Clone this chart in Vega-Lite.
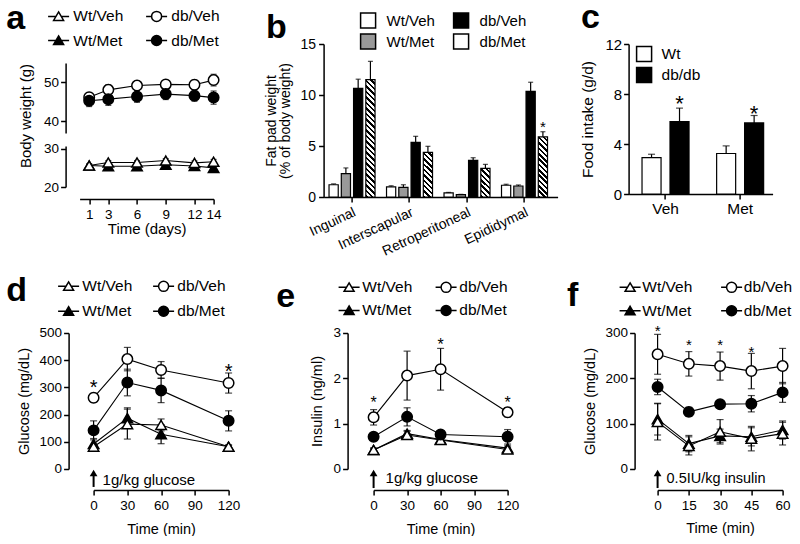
{
"$schema":"https://vega.github.io/schema/vega-lite/v6.json",
"background":"white",
"padding":{"left":5.6,"top":0,"right":0,"bottom":0},
"config":{
 "font":"Liberation Sans",
 "view":{"stroke":null},
 "axis":{"domainColor":"black","tickColor":"black","labelColor":"black","titleColor":"black","domainWidth":1.5,"tickWidth":1.5,"tickSize":5,"labelFontSize":13.5,"titleFontSize":14.5,"titleFontWeight":"normal","grid":false,"labelFlush":false,"labelOverlap":false,"labelPadding":2,"labelFont":"Liberation Sans","titleFont":"Liberation Sans"},
 "legend":{"labelFont":"Liberation Sans","labelColor":"black","labelFontSize":15.5,"padding":0},
 "title":{"font":"Liberation Sans","color":"black"},
 "text":{"font":"Liberation Sans","color":"black"}
},
"datasets":{
 "bw":[
  {"g":"Wt/Met","t":1,"v":25.6,"e":0.4},{"g":"Wt/Met","t":3,"v":25.4,"e":0.4},{"g":"Wt/Met","t":6,"v":25.4,"e":0.4},{"g":"Wt/Met","t":9,"v":25.8,"e":0.4},{"g":"Wt/Met","t":12,"v":25.5,"e":0.4},{"g":"Wt/Met","t":14,"v":25.0,"e":0.4},
  {"g":"Wt/Veh","t":1,"v":25.6,"e":0.4},{"g":"Wt/Veh","t":3,"v":26.4,"e":0.5},{"g":"Wt/Veh","t":6,"v":26.4,"e":0.5},{"g":"Wt/Veh","t":9,"v":26.9,"e":0.5},{"g":"Wt/Veh","t":12,"v":26.3,"e":0.5},{"g":"Wt/Veh","t":14,"v":26.6,"e":0.6},
  {"g":"db/Veh","t":1,"v":46.2,"e":1.2},{"g":"db/Veh","t":3,"v":48.1,"e":1.3},{"g":"db/Veh","t":6,"v":49.2,"e":1.1},{"g":"db/Veh","t":9,"v":49.5,"e":1.0},{"g":"db/Veh","t":12,"v":49.4,"e":1.2},{"g":"db/Veh","t":14,"v":50.6,"e":1.5},
  {"g":"db/Met","t":1,"v":45.3,"e":1.5},{"g":"db/Met","t":3,"v":45.7,"e":1.6},{"g":"db/Met","t":6,"v":46.4,"e":1.5},{"g":"db/Met","t":9,"v":47.0,"e":1.4},{"g":"db/Met","t":12,"v":46.6,"e":1.4},{"g":"db/Met","t":14,"v":46.1,"e":1.7}
 ],
 "fat":[
  {"tissue":"Inguinal","g":"Wt/Veh","v":1.2,"hi":1.28},{"tissue":"Inguinal","g":"Wt/Met","v":2.3,"hi":2.85},{"tissue":"Inguinal","g":"db/Veh","v":10.65,"hi":11.55},{"tissue":"Inguinal","g":"db/Met","v":11.5,"hi":13.3},
  {"tissue":"Interscapular","g":"Wt/Veh","v":1.0,"hi":1.1},{"tissue":"Interscapular","g":"Wt/Met","v":0.95,"hi":1.2},{"tissue":"Interscapular","g":"db/Veh","v":5.35,"hi":5.95},{"tissue":"Interscapular","g":"db/Met","v":4.37,"hi":4.97},
  {"tissue":"Retroperitoneal","g":"Wt/Veh","v":0.4,"hi":0.45},{"tissue":"Retroperitoneal","g":"Wt/Met","v":0.23,"hi":0.26},{"tissue":"Retroperitoneal","g":"db/Veh","v":3.6,"hi":3.85},{"tissue":"Retroperitoneal","g":"db/Met","v":2.8,"hi":3.2},
  {"tissue":"Epididymal","g":"Wt/Veh","v":1.15,"hi":1.25},{"tissue":"Epididymal","g":"Wt/Met","v":1.08,"hi":1.18},{"tissue":"Epididymal","g":"db/Veh","v":10.35,"hi":11.25},{"tissue":"Epididymal","g":"db/Met","v":5.9,"hi":6.4}
 ],
 "food":[
  {"cond":"Veh","g":"Wt","v":2.91,"hi":3.18},{"cond":"Veh","g":"db/db","v":5.79,"hi":6.87},{"cond":"Met","g":"Wt","v":3.24,"hi":3.85},{"cond":"Met","g":"db/db","v":5.69,"hi":6.28}
 ],
 "gtt":[
  {"g":"Wt/Met","t":0,"v":92,"e":20},{"g":"Wt/Met","t":30,"v":187,"e":38},{"g":"Wt/Met","t":60,"v":128,"e":35},{"g":"Wt/Met","t":120,"v":82,"e":6},
  {"g":"Wt/Veh","t":0,"v":82,"e":8},{"g":"Wt/Veh","t":30,"v":165,"e":55},{"g":"Wt/Veh","t":60,"v":162,"e":22},{"g":"Wt/Veh","t":120,"v":82,"e":6},
  {"g":"db/Veh","t":0,"v":262,"e":16},{"g":"db/Veh","t":30,"v":404,"e":43},{"g":"db/Veh","t":60,"v":364,"e":31},{"g":"db/Veh","t":120,"v":316,"e":37},
  {"g":"db/Met","t":0,"v":142,"e":35},{"g":"db/Met","t":30,"v":318,"e":49},{"g":"db/Met","t":60,"v":289,"e":45},{"g":"db/Met","t":120,"v":177,"e":37}
 ],
 "ins":[
  {"g":"Wt/Met","t":0,"v":0.42,"e":0.04},{"g":"Wt/Met","t":30,"v":0.78,"e":0.07},{"g":"Wt/Met","t":60,"v":0.65,"e":0.05},{"g":"Wt/Met","t":120,"v":0.46,"e":0.05},
  {"g":"Wt/Veh","t":0,"v":0.42,"e":0.04},{"g":"Wt/Veh","t":30,"v":0.75,"e":0.08},{"g":"Wt/Veh","t":60,"v":0.64,"e":0.05},{"g":"Wt/Veh","t":120,"v":0.43,"e":0.05},
  {"g":"db/Veh","t":0,"v":1.14,"e":0.17},{"g":"db/Veh","t":30,"v":2.06,"e":0.54},{"g":"db/Veh","t":60,"v":2.2,"e":0.46},{"g":"db/Veh","t":120,"v":1.25,"e":0.1},
  {"g":"db/Met","t":0,"v":0.71,"e":0.08},{"g":"db/Met","t":30,"v":1.15,"e":0.2},{"g":"db/Met","t":60,"v":0.76,"e":0.05},{"g":"db/Met","t":120,"v":0.71,"e":0.16}
 ],
 "itt":[
  {"g":"Wt/Met","t":0,"v":110,"e":35},{"g":"Wt/Met","t":15,"v":56,"e":18},{"g":"Wt/Met","t":30,"v":73,"e":15},{"g":"Wt/Met","t":45,"v":71,"e":20},{"g":"Wt/Met","t":60,"v":86,"e":20},
  {"g":"Wt/Veh","t":0,"v":104,"e":40},{"g":"Wt/Veh","t":15,"v":51,"e":20},{"g":"Wt/Veh","t":30,"v":82,"e":27},{"g":"Wt/Veh","t":45,"v":67,"e":27},{"g":"Wt/Veh","t":60,"v":78,"e":25},
  {"g":"db/Veh","t":0,"v":253,"e":44},{"g":"db/Veh","t":15,"v":232,"e":27},{"g":"db/Veh","t":30,"v":227,"e":31},{"g":"db/Veh","t":45,"v":216,"e":39},{"g":"db/Veh","t":60,"v":227,"e":39},
  {"g":"db/Met","t":0,"v":181,"e":17},{"g":"db/Met","t":15,"v":126,"e":10},{"g":"db/Met","t":30,"v":143,"e":6},{"g":"db/Met","t":45,"v":144,"e":18},{"g":"db/Met","t":60,"v":169,"e":22}
 ]
},
"columns":5,
"align":"each",
"bounds":"flush",
"spacing":{"row":136,"column":0},
"resolve":{"scale":{"shape":"independent","fill":"independent","xOffset":"independent"},"legend":{"shape":"independent","fill":"independent"}},
"concat":[
{
 "width":134,"height":143,
 "title":{"text":"a","anchor":"start","frame":"group","fontSize":34,"fontWeight":"bold","baseline":"alphabetic","dx":-73.4,"offset":-18.75,"dy":36},
 "data":{"name":"bw"},
 "encoding":{"x":{"field":"t","type":"quantitative","scale":{"domain":[0,14],"nice":false,"zero":false},"axis":{"values":[1,3,6,9,12,14],"offset":12,"title":"Time (days)","titlePadding":1,"labelPadding":3,"titleFontSize":15}}},
 "layer":[
  {"transform":[{"filter":"indexof(datum.g,'db')===0"}],
   "encoding":{
    "y":{"field":"v","type":"quantitative","scale":{"domain":[37,55],"range":[89,19],"nice":false,"zero":false},"axis":{"orient":"left","values":[40,50],"offset":14,"title":"Body weight (g)","titleY":71.5,"titlePadding":10,"titleFontSize":15}}},
   "layer":[
    {"mark":{"type":"errorbar","ticks":true,"color":"black","thickness":1.2,"size":6},"encoding":{"yError":{"field":"e"}}},
    {"mark":{"type":"line","color":"black","strokeWidth":1.1},"encoding":{"detail":{"field":"g"}}},
    {"mark":{"type":"point","filled":true,"opacity":1,"size":110,"stroke":"black","strokeWidth":1.5},
     "encoding":{
      "shape":{"field":"g","type":"nominal","scale":{"domain":["Wt/Veh","Wt/Met","db/Veh","db/Met"],"range":["triangle-up","triangle-up","circle","circle"]},"legend":null},
      "fill":{"field":"g","type":"nominal","scale":{"domain":["Wt/Veh","Wt/Met","db/Veh","db/Met"],"range":["white","black","white","black"]},"legend":null}}}
   ]},
  {"transform":[{"filter":"indexof(datum.g,'Wt')===0"}],
   "encoding":{
    "y":{"field":"v","type":"quantitative","scale":{"domain":[20,30.7],"range":[143,102],"nice":false,"zero":false},"axis":{"orient":"left","values":[20,30],"offset":14,"title":null}}},
   "layer":[
    {"mark":{"type":"errorbar","ticks":true,"color":"black","thickness":1.2,"size":6},"encoding":{"yError":{"field":"e"}}},
    {"mark":{"type":"line","color":"black","strokeWidth":1.1},"encoding":{"detail":{"field":"g"}}},
    {"mark":{"type":"point","filled":true,"opacity":1,"size":110,"stroke":"black","strokeWidth":1.5,"shape":"triangle-up"},
     "encoding":{"fill":{"condition":{"test":"datum.g==='Wt/Met'","value":"black"},"value":"white"}}}
   ]},
  {"data":{"values":[]},"mark":{"type":"point","filled":true,"opacity":1,"size":100,"stroke":"black","strokeWidth":1.3},
   "encoding":{
    "shape":{"field":"g","type":"nominal","scale":{"domain":["Wt/Veh","Wt/Met","db/Veh","db/Met"],"range":["M-2.1,0H-0.53M0.53,0H2.1M0,-0.9L1,0.8L-1,0.8Z","M-2.1,0H-0.53M0.53,0H2.1M0,-0.9L1,0.8L-1,0.8Z","M-2.1,0H-1M1,0H2.1M1,0A1,1,0,1,1,-1,0A1,1,0,1,1,1,0Z","M-2.1,0H-1M1,0H2.1M1,0A1,1,0,1,1,-1,0A1,1,0,1,1,1,0Z"]},
     "legend":{"orient":"none","legendX":-33.75,"legendY":-35.75,"columns":2,"title":null,"symbolOffset":5,"labelOffset":7,"columnPadding":19,"rowPadding":6.5,"labelFontSize":15.5,"symbolSize":100}},
    "fill":{"field":"g","type":"nominal","scale":{"domain":["Wt/Veh","Wt/Met","db/Veh","db/Met"],"range":["white","black","white","black"]},"legend":null}}}
 ],
 "resolve":{"scale":{"y":"independent","shape":"independent","fill":"independent"},"axis":{"y":"independent"}}
},
{"width":95,"height":153,"data":{"values":[]},"mark":"point"},
{
 "width":234,"height":153,
 "title":{"text":"b","anchor":"start","frame":"group","fontSize":34,"fontWeight":"bold","baseline":"alphabetic","dx":-57.5,"offset":-21.5,"dy":38.25},
 "data":{"name":"fat"},
 "encoding":{
  "x":{"field":"tissue","type":"nominal","scale":{"domain":["Inguinal","Interscapular","Retroperitoneal","Epididymal"],"paddingInner":0.2,"paddingOuter":0.135,"align":0.35},"axis":{"title":null,"labelAngle":-25,"labelFontSize":14,"labelPadding":3}},
  "xOffset":{"field":"g","type":"nominal","scale":{"domain":["Wt/Veh","Wt/Met","db/Veh","db/Met"],"paddingInner":0.25,"paddingOuter":0}},
  "y":{"field":"v","type":"quantitative","scale":{"domain":[0,15],"nice":false},"axis":{"values":[0,5,10,15],"title":["Fat pad weight","(% of body weight)"],"titleFontSize":14,"titleLineHeight":14,"titlePadding":8,"labelFontSize":14,"labelPadding":3}}
 },
 "layer":[
  {"mark":{"type":"rule","color":"black","strokeWidth":1.2},"encoding":{"y2":{"field":"hi"}}},
  {"mark":{"type":"tick","color":"black","thickness":1.2,"size":5,"orient":"horizontal"},"encoding":{"y":{"field":"hi","type":"quantitative"}}},
  {"mark":{"type":"bar","stroke":"black","strokeWidth":1.2},
   "encoding":{
    "fill":{"field":"g","type":"nominal","scale":{"domain":["Wt/Veh","Wt/Met","db/Veh","db/Met"],"range":["white","#999999","black","white"]},
    "legend":{"orient":"none","legendX":36,"legendY":-32,"columns":2,"title":null,"symbolType":"square","symbolSize":225,"labelOffset":10,"columnPadding":15,"rowPadding":0,"labelFontSize":15},
    "condition":[
     {"test":"datum.g==='db/Met'&&datum.tissue==='Inguinal'","value":{"gradient":"linear","x1":0,"y1":1,"x2":0.0841,"y2":-0.0719,"stops":[{"offset":0,"color":"#000"},{"offset":0.0196,"color":"#000"},{"offset":0.0196,"color":"#fff"},{"offset":0.0435,"color":"#fff"},{"offset":0.0435,"color":"#000"},{"offset":0.063,"color":"#000"},{"offset":0.063,"color":"#fff"},{"offset":0.087,"color":"#fff"},{"offset":0.087,"color":"#000"},{"offset":0.1065,"color":"#000"},{"offset":0.1065,"color":"#fff"},{"offset":0.1304,"color":"#fff"},{"offset":0.1304,"color":"#000"},{"offset":0.15,"color":"#000"},{"offset":0.15,"color":"#fff"},{"offset":0.1739,"color":"#fff"},{"offset":0.1739,"color":"#000"},{"offset":0.1935,"color":"#000"},{"offset":0.1935,"color":"#fff"},{"offset":0.2174,"color":"#fff"},{"offset":0.2174,"color":"#000"},{"offset":0.237,"color":"#000"},{"offset":0.237,"color":"#fff"},{"offset":0.2609,"color":"#fff"},{"offset":0.2609,"color":"#000"},{"offset":0.2804,"color":"#000"},{"offset":0.2804,"color":"#fff"},{"offset":0.3043,"color":"#fff"},{"offset":0.3043,"color":"#000"},{"offset":0.3239,"color":"#000"},{"offset":0.3239,"color":"#fff"},{"offset":0.3478,"color":"#fff"},{"offset":0.3478,"color":"#000"},{"offset":0.3674,"color":"#000"},{"offset":0.3674,"color":"#fff"},{"offset":0.3913,"color":"#fff"},{"offset":0.3913,"color":"#000"},{"offset":0.4109,"color":"#000"},{"offset":0.4109,"color":"#fff"},{"offset":0.4348,"color":"#fff"},{"offset":0.4348,"color":"#000"},{"offset":0.4543,"color":"#000"},{"offset":0.4543,"color":"#fff"},{"offset":0.4783,"color":"#fff"},{"offset":0.4783,"color":"#000"},{"offset":0.4978,"color":"#000"},{"offset":0.4978,"color":"#fff"},{"offset":0.5217,"color":"#fff"},{"offset":0.5217,"color":"#000"},{"offset":0.5413,"color":"#000"},{"offset":0.5413,"color":"#fff"},{"offset":0.5652,"color":"#fff"},{"offset":0.5652,"color":"#000"},{"offset":0.5848,"color":"#000"},{"offset":0.5848,"color":"#fff"},{"offset":0.6087,"color":"#fff"},{"offset":0.6087,"color":"#000"},{"offset":0.6283,"color":"#000"},{"offset":0.6283,"color":"#fff"},{"offset":0.6522,"color":"#fff"},{"offset":0.6522,"color":"#000"},{"offset":0.6717,"color":"#000"},{"offset":0.6717,"color":"#fff"},{"offset":0.6957,"color":"#fff"},{"offset":0.6957,"color":"#000"},{"offset":0.7152,"color":"#000"},{"offset":0.7152,"color":"#fff"},{"offset":0.7391,"color":"#fff"},{"offset":0.7391,"color":"#000"},{"offset":0.7587,"color":"#000"},{"offset":0.7587,"color":"#fff"},{"offset":0.7826,"color":"#fff"},{"offset":0.7826,"color":"#000"},{"offset":0.8022,"color":"#000"},{"offset":0.8022,"color":"#fff"},{"offset":0.8261,"color":"#fff"},{"offset":0.8261,"color":"#000"},{"offset":0.8457,"color":"#000"},{"offset":0.8457,"color":"#fff"},{"offset":0.8696,"color":"#fff"},{"offset":0.8696,"color":"#000"},{"offset":0.8891,"color":"#000"},{"offset":0.8891,"color":"#fff"},{"offset":0.913,"color":"#fff"},{"offset":0.913,"color":"#000"},{"offset":0.9326,"color":"#000"},{"offset":0.9326,"color":"#fff"},{"offset":0.9565,"color":"#fff"},{"offset":0.9565,"color":"#000"},{"offset":0.9761,"color":"#000"},{"offset":0.9761,"color":"#fff"},{"offset":1,"color":"#fff"}]}},
     {"test":"datum.g==='db/Met'&&datum.tissue==='Interscapular'","value":{"gradient":"linear","x1":0,"y1":1,"x2":0.2387,"y2":-0.157,"stops":[{"offset":0,"color":"#000"},{"offset":0.045,"color":"#000"},{"offset":0.045,"color":"#fff"},{"offset":0.1,"color":"#fff"},{"offset":0.1,"color":"#000"},{"offset":0.145,"color":"#000"},{"offset":0.145,"color":"#fff"},{"offset":0.2,"color":"#fff"},{"offset":0.2,"color":"#000"},{"offset":0.245,"color":"#000"},{"offset":0.245,"color":"#fff"},{"offset":0.3,"color":"#fff"},{"offset":0.3,"color":"#000"},{"offset":0.345,"color":"#000"},{"offset":0.345,"color":"#fff"},{"offset":0.4,"color":"#fff"},{"offset":0.4,"color":"#000"},{"offset":0.445,"color":"#000"},{"offset":0.445,"color":"#fff"},{"offset":0.5,"color":"#fff"},{"offset":0.5,"color":"#000"},{"offset":0.545,"color":"#000"},{"offset":0.545,"color":"#fff"},{"offset":0.6,"color":"#fff"},{"offset":0.6,"color":"#000"},{"offset":0.645,"color":"#000"},{"offset":0.645,"color":"#fff"},{"offset":0.7,"color":"#fff"},{"offset":0.7,"color":"#000"},{"offset":0.745,"color":"#000"},{"offset":0.745,"color":"#fff"},{"offset":0.8,"color":"#fff"},{"offset":0.8,"color":"#000"},{"offset":0.845,"color":"#000"},{"offset":0.845,"color":"#fff"},{"offset":0.9,"color":"#fff"},{"offset":0.9,"color":"#000"},{"offset":0.945,"color":"#000"},{"offset":0.945,"color":"#fff"},{"offset":1,"color":"#fff"}]}},
     {"test":"datum.g==='db/Met'&&datum.tissue==='Retroperitoneal'","value":{"gradient":"linear","x1":0,"y1":1,"x2":0.3853,"y2":-0.198,"stops":[{"offset":0,"color":"#000"},{"offset":0.0643,"color":"#000"},{"offset":0.0643,"color":"#fff"},{"offset":0.1429,"color":"#fff"},{"offset":0.1429,"color":"#000"},{"offset":0.2071,"color":"#000"},{"offset":0.2071,"color":"#fff"},{"offset":0.2857,"color":"#fff"},{"offset":0.2857,"color":"#000"},{"offset":0.35,"color":"#000"},{"offset":0.35,"color":"#fff"},{"offset":0.4286,"color":"#fff"},{"offset":0.4286,"color":"#000"},{"offset":0.4929,"color":"#000"},{"offset":0.4929,"color":"#fff"},{"offset":0.5714,"color":"#fff"},{"offset":0.5714,"color":"#000"},{"offset":0.6357,"color":"#000"},{"offset":0.6357,"color":"#fff"},{"offset":0.7143,"color":"#fff"},{"offset":0.7143,"color":"#000"},{"offset":0.7786,"color":"#000"},{"offset":0.7786,"color":"#fff"},{"offset":0.8571,"color":"#fff"},{"offset":0.8571,"color":"#000"},{"offset":0.9214,"color":"#000"},{"offset":0.9214,"color":"#fff"},{"offset":1,"color":"#fff"}]}},
     {"test":"datum.g==='db/Met'&&datum.tissue==='Epididymal'","value":{"gradient":"linear","x1":0,"y1":1,"x2":0.1722,"y2":-0.1264,"stops":[{"offset":0,"color":"#000"},{"offset":0.0346,"color":"#000"},{"offset":0.0346,"color":"#fff"},{"offset":0.0769,"color":"#fff"},{"offset":0.0769,"color":"#000"},{"offset":0.1115,"color":"#000"},{"offset":0.1115,"color":"#fff"},{"offset":0.1538,"color":"#fff"},{"offset":0.1538,"color":"#000"},{"offset":0.1885,"color":"#000"},{"offset":0.1885,"color":"#fff"},{"offset":0.2308,"color":"#fff"},{"offset":0.2308,"color":"#000"},{"offset":0.2654,"color":"#000"},{"offset":0.2654,"color":"#fff"},{"offset":0.3077,"color":"#fff"},{"offset":0.3077,"color":"#000"},{"offset":0.3423,"color":"#000"},{"offset":0.3423,"color":"#fff"},{"offset":0.3846,"color":"#fff"},{"offset":0.3846,"color":"#000"},{"offset":0.4192,"color":"#000"},{"offset":0.4192,"color":"#fff"},{"offset":0.4615,"color":"#fff"},{"offset":0.4615,"color":"#000"},{"offset":0.4962,"color":"#000"},{"offset":0.4962,"color":"#fff"},{"offset":0.5385,"color":"#fff"},{"offset":0.5385,"color":"#000"},{"offset":0.5731,"color":"#000"},{"offset":0.5731,"color":"#fff"},{"offset":0.6154,"color":"#fff"},{"offset":0.6154,"color":"#000"},{"offset":0.65,"color":"#000"},{"offset":0.65,"color":"#fff"},{"offset":0.6923,"color":"#fff"},{"offset":0.6923,"color":"#000"},{"offset":0.7269,"color":"#000"},{"offset":0.7269,"color":"#fff"},{"offset":0.7692,"color":"#fff"},{"offset":0.7692,"color":"#000"},{"offset":0.8038,"color":"#000"},{"offset":0.8038,"color":"#fff"},{"offset":0.8462,"color":"#fff"},{"offset":0.8462,"color":"#000"},{"offset":0.8808,"color":"#000"},{"offset":0.8808,"color":"#fff"},{"offset":0.9231,"color":"#fff"},{"offset":0.9231,"color":"#000"},{"offset":0.9577,"color":"#000"},{"offset":0.9577,"color":"#fff"},{"offset":1,"color":"#fff"}]}}
    ]}}},
  {"data":{"values":[{"tissue":"Epididymal","g":"db/Met","v":7.3,"s":"*"}]},"mark":{"type":"text","fontSize":15,"baseline":"middle","dy":4},"encoding":{"text":{"field":"s"}}}
 ]
},
{"width":71,"height":153,"data":{"values":[]},"mark":"point"},
{
 "width":144,"height":150,
 "title":{"text":"c","anchor":"start","frame":"group","fontSize":34,"fontWeight":"bold","baseline":"alphabetic","dx":-47.5,"offset":8.5,"dy":33},
 "data":{"name":"food"},
 "encoding":{
  "x":{"field":"cond","type":"nominal","scale":{"domain":["Veh","Met"],"paddingInner":0.37,"paddingOuter":0.15,"align":0.6},"axis":{"title":null,"labelAngle":0,"labelFontSize":15.5,"labelPadding":2}},
  "xOffset":{"field":"g","type":"nominal","scale":{"domain":["Wt","db/db"],"paddingInner":0.32,"paddingOuter":0}},
  "y":{"field":"v","type":"quantitative","scale":{"domain":[0,12],"nice":false},"axis":{"values":[0,4,8,12],"title":"Food intake (g/d)","titleFontSize":15.5,"titlePadding":9,"labelFontSize":15,"labelPadding":2}}
 },
 "layer":[
  {"mark":{"type":"rule","color":"black","strokeWidth":1.2},"encoding":{"y2":{"field":"hi"}}},
  {"mark":{"type":"tick","color":"black","thickness":1.2,"size":7,"orient":"horizontal"},"encoding":{"y":{"field":"hi","type":"quantitative"}}},
  {"mark":{"type":"bar","stroke":"black","strokeWidth":1.2},
   "encoding":{"fill":{"field":"g","type":"nominal","scale":{"domain":["Wt","db/db"],"range":["white","black"]},
    "legend":{"orient":"none","legendX":7,"legendY":1.5,"title":null,"symbolType":"square","symbolSize":225,"labelOffset":9,"rowPadding":0,"labelFontSize":15.5}}}},
  {"data":{"values":[{"cond":"Veh","g":"db/db","v":7.65,"s":"*"},{"cond":"Met","g":"db/db","v":6.9,"s":"*"}]},"mark":{"type":"text","fontSize":22,"baseline":"middle","dy":6},"encoding":{"text":{"field":"s"}}}
 ]
},
{
 "width":149,"height":136,
 "title":{"text":"d","anchor":"start","frame":"group","fontSize":34,"fontWeight":"bold","baseline":"alphabetic","dx":-73.4,"offset":-24.75,"dy":32.5},
 "encoding":{
  "x":{"field":"t","type":"quantitative","scale":{"domain":[0,120],"range":[14,149],"nice":false,"zero":false},"axis":{"values":[0,30,60,90,120],"offset":21,"title":"Time (min)","titlePadding":10,"labelPadding":4}},
  "y":{"field":"v","type":"quantitative","scale":{"domain":[0,500],"nice":false},"axis":{"values":[0,100,200,300,400,500],"offset":11,"title":"Glucose (mg/dL)","titlePadding":8}}
 },
 "layer":[
  {"data":{"name":"gtt"},
   "layer":[
    {"mark":{"type":"errorbar","ticks":true,"color":"black","thickness":1.2,"size":7},"encoding":{"yError":{"field":"e"}}},
    {"mark":{"type":"line","color":"black","strokeWidth":1.1},"encoding":{"detail":{"field":"g"}}},
    {"mark":{"type":"point","filled":true,"opacity":1,"size":110,"stroke":"black","strokeWidth":1.5},
     "encoding":{
      "shape":{"field":"g","type":"nominal","scale":{"domain":["Wt/Veh","Wt/Met","db/Veh","db/Met"],"range":["triangle-up","triangle-up","circle","circle"]},"legend":null},
      "fill":{"field":"g","type":"nominal","scale":{"domain":["Wt/Veh","Wt/Met","db/Veh","db/Met"],"range":["white","black","white","black"]},"legend":null}}}
   ]},
  {"data":{"values":[{"t":0,"v":316,"s":"*"},{"t":120,"v":377,"s":"*"}]},"mark":{"type":"text","fontSize":20,"baseline":"middle","dy":5.4},"encoding":{"text":{"field":"s"}}},
  {"data":{"values":[{"t":0,"v":-66,"v2":-14.7}]},"mark":{"type":"rule","color":"black","strokeWidth":2},"encoding":{"y2":{"field":"v2"}}},
  {"data":{"values":[{"t":0,"v":-14.7}]},"mark":{"type":"point","shape":"triangle-up","filled":true,"color":"black","opacity":1,"size":60}},
  {"data":{"values":[{"t":8,"v":-59,"s":"1g/kg glucose"}]},"mark":{"type":"text","align":"left","baseline":"alphabetic","fontSize":15},"encoding":{"text":{"field":"s"}}},
  {"data":{"values":[]},"mark":{"type":"point","filled":true,"opacity":1,"size":100,"stroke":"black","strokeWidth":1.3},
   "encoding":{
    "shape":{"field":"g","type":"nominal","scale":{"domain":["Wt/Veh","Wt/Met","db/Veh","db/Met"],"range":["M-2.1,0H-0.53M0.53,0H2.1M0,-0.9L1,0.8L-1,0.8Z","M-2.1,0H-0.53M0.53,0H2.1M0,-0.9L1,0.8L-1,0.8Z","M-2.1,0H-1M1,0H2.1M1,0A1,1,0,1,1,-1,0A1,1,0,1,1,1,0Z","M-2.1,0H-1M1,0H2.1M1,0A1,1,0,1,1,-1,0A1,1,0,1,1,1,0Z"]},
     "legend":{"orient":"none","legendX":-23.75,"legendY":-54.75,"columns":2,"title":null,"symbolOffset":5,"labelOffset":6,"columnPadding":17,"rowPadding":7.2,"labelFontSize":15.5,"symbolSize":100}},
    "fill":{"field":"g","type":"nominal","scale":{"domain":["Wt/Veh","Wt/Met","db/Veh","db/Met"],"range":["white","black","white","black"]},"legend":null}}}
 ],
 "resolve":{"scale":{"shape":"independent","fill":"independent"}}
},
{"width":95,"height":136,"data":{"values":[]},"mark":"point"},
{
 "width":184,"height":136,
 "title":{"text":"e","anchor":"start","frame":"group","fontSize":34,"fontWeight":"bold","baseline":"alphabetic","dx":-47.4,"offset":-27.75,"dy":34.5},
 "encoding":{
  "x":{"field":"t","type":"quantitative","scale":{"domain":[0,120],"range":[50,184],"nice":false,"zero":false},"axis":{"values":[0,30,60,90,120],"offset":21,"title":"Time (min)","titlePadding":10,"labelPadding":4}},
  "y":{"field":"v","type":"quantitative","scale":{"domain":[0,3],"nice":false},"axis":{"values":[0,1,2,3],"offset":-24,"title":"Insulin (ng/ml)","titlePadding":9}}
 },
 "layer":[
  {"data":{"name":"ins"},
   "layer":[
    {"mark":{"type":"errorbar","ticks":true,"color":"black","thickness":1.2,"size":7},"encoding":{"yError":{"field":"e"}}},
    {"mark":{"type":"line","color":"black","strokeWidth":1.1},"encoding":{"detail":{"field":"g"}}},
    {"mark":{"type":"point","filled":true,"opacity":1,"size":110,"stroke":"black","strokeWidth":1.5},
     "encoding":{
      "shape":{"field":"g","type":"nominal","scale":{"domain":["Wt/Veh","Wt/Met","db/Veh","db/Met"],"range":["triangle-up","triangle-up","circle","circle"]},"legend":null},
      "fill":{"field":"g","type":"nominal","scale":{"domain":["Wt/Veh","Wt/Met","db/Veh","db/Met"],"range":["white","black","white","black"]},"legend":null}}}
   ]},
  {"data":{"values":[{"t":0,"v":1.555,"s":"*"},{"t":60,"v":2.82,"s":"*"},{"t":120,"v":1.555,"s":"*"}]},"mark":{"type":"text","fontSize":16,"baseline":"middle","dy":4.3},"encoding":{"text":{"field":"s"}}},
  {"data":{"values":[{"t":0,"v":-0.42,"v2":-0.088}]},"mark":{"type":"rule","color":"black","strokeWidth":2},"encoding":{"y2":{"field":"v2"}}},
  {"data":{"values":[{"t":0,"v":-0.088}]},"mark":{"type":"point","shape":"triangle-up","filled":true,"color":"black","opacity":1,"size":60}},
  {"data":{"values":[{"t":10.7,"v":-0.31,"s":"1g/kg glucose"}]},"mark":{"type":"text","align":"left","baseline":"alphabetic","fontSize":15},"encoding":{"text":{"field":"s"}}},
  {"data":{"values":[]},"mark":{"type":"point","filled":true,"opacity":1,"size":100,"stroke":"black","strokeWidth":1.3},
   "encoding":{
    "shape":{"field":"g","type":"nominal","scale":{"domain":["Wt/Veh","Wt/Met","db/Veh","db/Met"],"range":["M-2.1,0H-0.53M0.53,0H2.1M0,-0.9L1,0.8L-1,0.8Z","M-2.1,0H-0.53M0.53,0H2.1M0,-0.9L1,0.8L-1,0.8Z","M-2.1,0H-1M1,0H2.1M1,0A1,1,0,1,1,-1,0A1,1,0,1,1,1,0Z","M-2.1,0H-1M1,0H2.1M1,0A1,1,0,1,1,-1,0A1,1,0,1,1,1,0Z"]},
     "legend":{"orient":"none","legendX":12.75,"legendY":-53.75,"columns":2,"title":null,"symbolOffset":5,"labelOffset":5.5,"columnPadding":20,"rowPadding":5.5,"labelFontSize":15.5,"symbolSize":100}},
    "fill":{"field":"g","type":"nominal","scale":{"domain":["Wt/Veh","Wt/Met","db/Veh","db/Met"],"range":["white","black","white","black"]},"legend":null}}}
 ],
 "resolve":{"scale":{"shape":"independent","fill":"independent"}}
},
{"width":71,"height":136,"data":{"values":[]},"mark":"point"},
{
 "width":154,"height":136,
 "title":{"text":"f","anchor":"start","frame":"group","fontSize":34,"fontWeight":"bold","baseline":"alphabetic","dx":-61.7,"offset":-26.75,"dy":34.5},
 "encoding":{
  "x":{"field":"t","type":"quantitative","scale":{"domain":[0,60],"range":[29,154],"nice":false,"zero":false},"axis":{"values":[0,15,30,45,60],"offset":21,"title":"Time (min)","titlePadding":9,"labelPadding":4}},
  "y":{"field":"v","type":"quantitative","scale":{"domain":[0,300],"nice":false},"axis":{"values":[0,100,200,300],"offset":-6,"title":"Glucose (mg/dL)","titlePadding":8}}
 },
 "layer":[
  {"data":{"name":"itt"},
   "layer":[
    {"mark":{"type":"errorbar","ticks":true,"color":"black","thickness":1.2,"size":7},"encoding":{"yError":{"field":"e"}}},
    {"mark":{"type":"line","color":"black","strokeWidth":1.1},"encoding":{"detail":{"field":"g"}}},
    {"mark":{"type":"point","filled":true,"opacity":1,"size":110,"stroke":"black","strokeWidth":1.5},
     "encoding":{
      "shape":{"field":"g","type":"nominal","scale":{"domain":["Wt/Veh","Wt/Met","db/Veh","db/Met"],"range":["triangle-up","triangle-up","circle","circle"]},"legend":null},
      "fill":{"field":"g","type":"nominal","scale":{"domain":["Wt/Veh","Wt/Met","db/Veh","db/Met"],"range":["white","black","white","black"]},"legend":null}}}
   ]},
  {"data":{"values":[{"t":0,"v":313,"s":"*"},{"t":15,"v":282,"s":"*"},{"t":30,"v":282,"s":"*"},{"t":45,"v":268,"s":"*"}]},"mark":{"type":"text","fontSize":15,"baseline":"middle","dy":4},"encoding":{"text":{"field":"s"}}},
  {"data":{"values":[{"t":0,"v":-42,"v2":-8.8}]},"mark":{"type":"rule","color":"black","strokeWidth":2},"encoding":{"y2":{"field":"v2"}}},
  {"data":{"values":[{"t":0,"v":-8.8}]},"mark":{"type":"point","shape":"triangle-up","filled":true,"color":"black","opacity":1,"size":60}},
  {"data":{"values":[{"t":4.3,"v":-30.9,"s":"0.5IU/kg insulin"}]},"mark":{"type":"text","align":"left","baseline":"alphabetic","fontSize":14.5},"encoding":{"text":{"field":"s"}}},
  {"data":{"values":[]},"mark":{"type":"point","filled":true,"opacity":1,"size":100,"stroke":"black","strokeWidth":1.3},
   "encoding":{
    "shape":{"field":"g","type":"nominal","scale":{"domain":["Wt/Veh","Wt/Met","db/Veh","db/Met"],"range":["M-2.1,0H-0.53M0.53,0H2.1M0,-0.9L1,0.8L-1,0.8Z","M-2.1,0H-0.53M0.53,0H2.1M0,-0.9L1,0.8L-1,0.8Z","M-2.1,0H-1M1,0H2.1M1,0A1,1,0,1,1,-1,0A1,1,0,1,1,1,0Z","M-2.1,0H-1M1,0H2.1M1,0A1,1,0,1,1,-1,0A1,1,0,1,1,1,0Z"]},
     "legend":{"orient":"none","legendX":-11.25,"legendY":-53.75,"columns":2,"title":null,"symbolOffset":5,"labelOffset":4.5,"columnPadding":25.5,"rowPadding":5.8,"labelFontSize":15.5,"symbolSize":100}},
    "fill":{"field":"g","type":"nominal","scale":{"domain":["Wt/Veh","Wt/Met","db/Veh","db/Met"],"range":["white","black","white","black"]},"legend":null}}}
 ],
 "resolve":{"scale":{"shape":"independent","fill":"independent"}}
}
]
}
